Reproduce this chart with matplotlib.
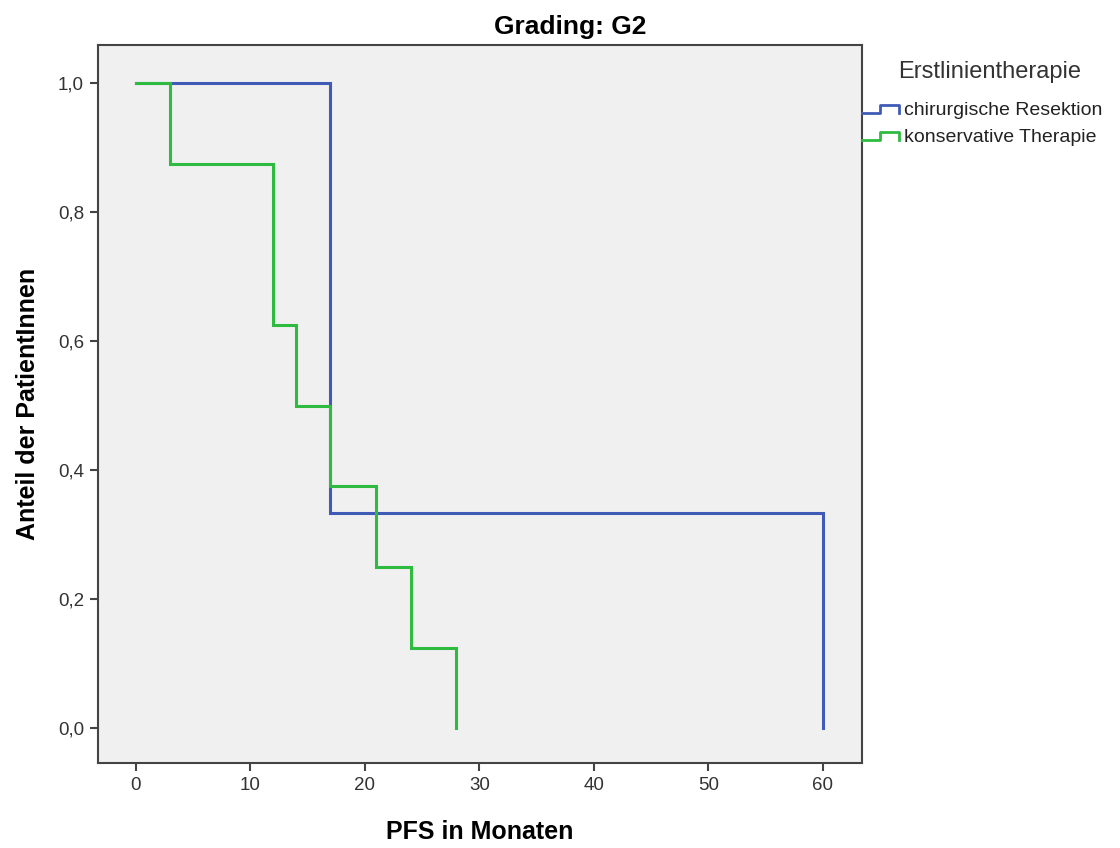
import matplotlib
matplotlib.use("Agg")
import matplotlib.pyplot as plt
from matplotlib.lines import Line2D
from matplotlib.legend_handler import HandlerBase

plt.rcParams['font.family'] = ['Liberation Sans', 'DejaVu Sans']

# Data (Kaplan-Meier step curves)
blue_t = [0, 17, 60]
blue_s = [1.0, 0.333, 0.0]
green_t = [0, 3, 12, 14, 17, 21, 24, 28]
green_s = [1.0, 0.875, 0.625, 0.5, 0.375, 0.25, 0.125, 0.0]
series_names = ["chirurgische Resektion", "konservative Therapie"]
colors = ["#3F5BB5", "#2EBB3F"]
xticks = [0, 10, 20, 30, 40, 50, 60]
yticks = [0.0, 0.2, 0.4, 0.6, 0.8, 1.0]
ytick_labels = ["0,0", "0,2", "0,4", "0,6", "0,8", "1,0"]

fig = plt.figure(figsize=(11.2, 8.48), dpi=100)
ax = fig.add_axes([0.0875, 0.1002, 0.682, 0.8467])
ax.set_facecolor("#F0F0F0")

def steps(t, s):
    xs, ys = [t[0]], [s[0]]
    for i in range(1, len(t)):
        xs += [t[i], t[i]]
        ys += [s[i-1], s[i]]
    return xs, ys

bx, by = steps(blue_t, blue_s)
gx, gy = steps(green_t, green_s)
ax.plot(bx, by, color=colors[0], lw=2.2, solid_joinstyle='miter')
ax.plot(gx, gy, color=colors[1], lw=2.2, solid_joinstyle='miter')

ax.set_xlim(-3.3, 63.4)
ax.set_ylim(-0.054, 1.059)
ax.set_xticks(xticks)
ax.set_xticklabels([str(v) for v in xticks])
ax.set_yticks(yticks)
ax.set_yticklabels(ytick_labels)
ax.tick_params(axis='both', direction='out', length=6, width=1.5, color='#444444',
               labelsize=13.5, labelcolor='#333333', pad=4)
for sp in ax.spines.values():
    sp.set_color('#444444')
    sp.set_linewidth(1.5)

ax.set_xlabel("PFS in Monaten", fontsize=18, fontweight='bold', labelpad=19)
ax.set_ylabel("Anteil der PatientInnen", fontsize=18, fontweight='bold', labelpad=13)
fig.text(0.509, 0.968, "Grading: G2", ha='center', va='center', fontsize=19, fontweight='bold')

class StepHandler(HandlerBase):
    def create_artists(self, legend, orig_handle, xdescent, ydescent, width, height, fontsize, trans):
        w = width; h = height
        xs = [0, 0.45*w, 0.45*w, 0.95*w, 0.95*w]
        ys = [0.15*h, 0.15*h, 0.7*h, 0.7*h, 0.15*h]
        l = Line2D(xs, ys, color=orig_handle.get_color(), lw=2, transform=trans)
        return [l]

fig.text(0.884, 1 - 72/848, "Erstlinientherapie", ha='center', va='center',
         fontsize=17, color='#333333')
handles = [Line2D([], [], color=c) for c in colors]
leg = fig.legend(handles, series_names, loc='upper left', bbox_to_anchor=(0.770, 1 - 101/848),
                 frameon=False, fontsize=14,
                 handler_map={Line2D: StepHandler()},
                 handlelength=2.0, handletextpad=0.12, labelspacing=0.5, borderaxespad=0,
                 borderpad=0)
for t in leg.get_texts():
    t.set_color('#222222')

fig.savefig("out.png", dpi=100)
